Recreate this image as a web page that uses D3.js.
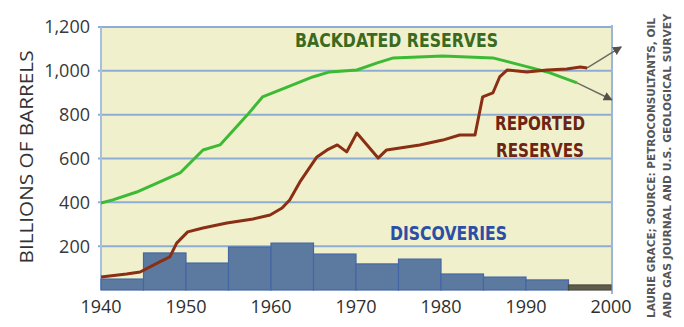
<!DOCTYPE html>
<html>
<head>
<meta charset="utf-8">
<script src="https://cdn.jsdelivr.net/npm/d3@7"></script>
<style>
  body { margin: 0; background: #fff; }
  svg { display: block; }
</style>
</head>
<body>
<div id="chart"></div>
<script>
const w = 684;
const h = 327;

// discoveries, 5-year bins (start year, billions of barrels)
const binStarts = [1940, 1945, 1950, 1955, 1960, 1965, 1970, 1975, 1980, 1985, 1990, 1995];
const discoveries = [50, 169, 123, 196, 214, 164, 119, 141, 73, 59, 46, 23];

// backdated reserves
const backYears = [1940, 1941.4, 1944.2, 1949.3, 1952, 1954, 1957.2, 1959, 1961.9, 1964.9, 1966.9, 1970.1, 1972.5, 1974.4, 1980.2, 1986.1, 1989.3, 1992.5, 1996];
const backValues = [397, 411, 447, 534, 639, 662, 798, 881, 926, 972, 995, 1004, 1036, 1059, 1068, 1059, 1027, 995, 945];

// reported reserves
const repYears = [1940, 1943, 1944.6, 1946.9, 1948.1, 1948.9, 1950.2, 1952, 1954.8, 1957.9, 1959.9, 1961.3, 1962.2, 1963.4, 1965.4, 1966.6, 1967.8, 1968.9, 1970.1, 1971.6, 1972.6, 1973.6, 1977.5, 1980.2, 1982.2, 1984, 1984.9, 1986.1, 1986.9, 1987.8, 1990.1, 1992.5, 1994.8, 1996.4, 1997.2];
const repValues = [59, 73, 82, 128, 151, 214, 265, 283, 306, 324, 342, 374, 411, 493, 607, 639, 662, 630, 716, 648, 602, 639, 662, 684, 707, 707, 881, 899, 972, 1004, 995, 1004, 1008, 1017, 1013];

// projection arrows: [year, value] start -> end
const arrowUp = [[1997.2, 1013], [2001.2, 1109]];
const arrowDown = [[1996, 945], [2000.1, 868]];

const yTicks = [200, 400, 600, 800, 1000, 1200];
const xTicks = [1940, 1950, 1960, 1970, 1980, 1990, 2000];

const x = d3.scaleLinear().domain([1940, 2000]).range([101, 611]);
const y = d3.scaleLinear().domain([0, 1200]).range([290, 27]);

const svg = d3.select("#chart").append("svg")
  .attr("width", w)
  .attr("height", h);

const defs = svg.append("defs");
defs.append("marker")
  .attr("id", "arr")
  .attr("viewBox", "0 0 10 10")
  .attr("refX", 9).attr("refY", 5)
  .attr("markerWidth", 6).attr("markerHeight", 6)
  .attr("orient", "auto")
  .append("path")
  .attr("d", "M0,0 L10,5 L0,10 z")
  .attr("fill", "#55514a");

// plot background
svg.append("rect")
  .attr("x", x(1940)).attr("y", y(1200))
  .attr("width", x(2000) - x(1940) + 1).attr("height", y(0) - y(1200))
  .attr("fill", "#f0f1cc");

// gridlines
svg.append("g").selectAll("line")
  .data(yTicks)
  .enter().append("line")
  .attr("x1", x(1940) - 3).attr("x2", x(2000) + 2)
  .attr("y1", d => y(d)).attr("y2", d => y(d))
  .attr("stroke", "#8eadd4")
  .attr("stroke-width", 2);

svg.append("line")
  .attr("x1", x(1940)).attr("x2", x(1940))
  .attr("y1", y(1200)).attr("y2", y(0))
  .attr("stroke", "#a8c0de").attr("stroke-width", 2);
svg.append("line")
  .attr("x1", x(2000) + 1).attr("x2", x(2000) + 1)
  .attr("y1", y(1200) - 2).attr("y2", y(0) + 4)
  .attr("stroke", "#9cb6da").attr("stroke-width", 2);

// discoveries bars
svg.append("g").selectAll("rect")
  .data(discoveries)
  .enter().append("rect")
  .attr("x", (d, i) => x(binStarts[i]))
  .attr("y", d => y(d))
  .attr("width", (d, i) => x(binStarts[i] + 5) - x(binStarts[i]))
  .attr("height", d => y(0) - y(d))
  .attr("fill", (d, i) => i === discoveries.length - 1 ? "#5e5c4c" : "#5c7aa0")
  .attr("stroke", (d, i) => i === discoveries.length - 1 ? "#4c4a3c" : "#4466a6")
  .attr("stroke-width", 1.2);

// lines
const line = d3.line().x(d => x(d[0])).y(d => y(d[1])).curve(d3.curveLinear);
const backData = backYears.map((yr, i) => [yr, backValues[i]]);
const repData = repYears.map((yr, i) => [yr, repValues[i]]);

[arrowUp, arrowDown].forEach(a => {
  svg.append("path")
    .attr("d", line(a))
    .attr("fill", "none")
    .attr("stroke", "#6e6a62")
    .attr("stroke-width", 1.5)
    .attr("marker-end", "url(#arr)");
});

svg.append("path")
  .attr("d", line(backData))
  .attr("fill", "none")
  .attr("stroke", "#3dba35")
  .attr("stroke-width", 3)
  .attr("stroke-linejoin", "round");

svg.append("path")
  .attr("d", line(repData))
  .attr("fill", "none")
  .attr("stroke", "#8a2e14")
  .attr("stroke-width", 3)
  .attr("stroke-linejoin", "round");

// axes labels
svg.append("g").selectAll("text")
  .data(yTicks)
  .enter().append("text")
  .attr("x", 90)
  .attr("y", d => y(d))
  .attr("dy", "0.36em")
  .attr("text-anchor", "end")
  .attr("font-family", "Open Sans, sans-serif")
  .attr("font-size", 18)
  .attr("fill", "#383838")
  .text(d => d3.format(",")(d));

svg.append("g").selectAll("text")
  .data(xTicks)
  .enter().append("text")
  .attr("x", d => x(d))
  .attr("y", 307)
  .attr("dy", "0.36em")
  .attr("text-anchor", "middle")
  .attr("font-family", "Open Sans, sans-serif")
  .attr("font-size", 18)
  .attr("fill", "#2e2e2e")
  .text(d => d);

svg.append("text")
  .attr("transform", "translate(27,157) rotate(-90)")
  .attr("dy", "0.36em")
  .attr("text-anchor", "middle")
  .attr("font-family", "Open Sans, sans-serif")
  .attr("font-size", 18)
  .attr("fill", "#333")
  .attr("textLength", 213)
  .attr("lengthAdjust", "spacingAndGlyphs")
  .text("BILLIONS OF BARRELS");

// series labels
function label(txt, x0, base, len, col) {
  svg.append("text")
    .attr("x", x0).attr("y", base)
    .attr("font-family", "DejaVu Sans, sans-serif")
    .attr("font-weight", "bold")
    .attr("font-size", 20)
    .attr("fill", col)
    .attr("textLength", len)
    .attr("lengthAdjust", "spacingAndGlyphs")
    .text(txt);
}
label("BACKDATED RESERVES", 295, 47, 203, "#3b6a1e");
label("REPORTED", 495, 130, 90, "#6e2412");
label("RESERVES", 496, 157, 88, "#6e2412");
label("DISCOVERIES", 390, 240, 117, "#2d4ea6");

// source credit
const src = ["LAURIE GRACE; SOURCE: PETROCONSULTANTS, OIL", "AND GAS JOURNAL AND U.S. GEOLOGICAL SURVEY"];
svg.append("g").selectAll("text")
  .data(src)
  .enter().append("text")
  .attr("transform", (d, i) => "translate(" + (655 + i * 16) + ",318) rotate(-90)")
  .attr("font-family", "DejaVu Sans, sans-serif")
  .attr("font-weight", "bold")
  .attr("font-size", 10)
  .attr("fill", "#555")
  .attr("textLength", (d, i) => i === 0 ? 300 : 304)
  .attr("lengthAdjust", "spacingAndGlyphs")
  .text(d => d);
</script>
</body>
</html>
